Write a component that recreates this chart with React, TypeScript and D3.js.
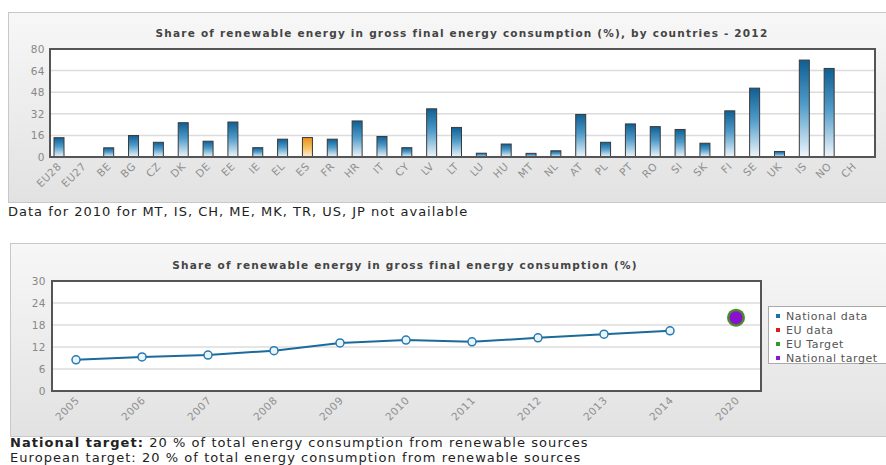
import React from "react";
import * as d3 from "d3";

const countries = ["EU28","EU27","BE","BG","CZ","DK","DE","EE","IE","EL","ES","FR","HR","IT","CY","LV","LT","LU","HU","MT","NL","AT","PL","PT","RO","SI","SK","FI","SE","UK","IS","NO","CH"];
const shares2012: (number | null)[] = [14.3,null,6.8,15.9,10.9,25.4,11.7,25.9,6.9,13.2,14.4,13.2,26.7,15.2,6.9,35.7,21.9,2.8,9.6,2.7,4.6,31.5,10.9,24.5,22.5,20.4,10.2,34.2,51.0,4.1,71.8,65.6,null];
const highlight = "ES";
const barTicks = [0,16,32,48,64,80];

const years = ["2005","2006","2007","2008","2009","2010","2011","2012","2013","2014","2020"];
const nationalData: (number | null)[] = [8.5,9.3,9.8,11.0,13.1,13.9,13.4,14.5,15.5,16.4,null];
const euTarget2020 = 20;
const nationalTarget2020 = 20;
const lineTicks = [0,6,12,18,24,30];
const legendItems = [
  { label: "National data", color: "#1b72a8" },
  { label: "EU data", color: "#e31a1c" },
  { label: "EU Target", color: "#2e9a2e" },
  { label: "National target", color: "#8a18c8" },
];

const FONT = "'DejaVu Sans', Verdana, sans-serif";

export default function App() {
  const yB = d3.scaleLinear().domain([0, 80]).range([157, 49]);
  const xB = d3.scalePoint<string>().domain(countries).range([59, 854]);
  const barW = 10;

  const yL = d3.scaleLinear().domain([0, 30]).range([391, 281]);
  const xL = d3.scalePoint<string>().domain(years).range([76, 736]);
  const pts = years.map((y, i) => ({ y, v: nationalData[i] })).filter(d => d.v != null) as { y: string; v: number }[];
  const line = d3.line<{ y: string; v: number }>().x(d => xL(d.y)!).y(d => yL(d.v));

  return (
    <svg width={886} height={465} style={{ position: "absolute", left: 0, top: 0, fontFamily: FONT }}>
      <defs>
        <linearGradient id="panelG" x1="0" y1="0" x2="0" y2="1">
          <stop offset="0" stopColor="#f7f7f7" />
          <stop offset="1" stopColor="#e2e2e2" />
        </linearGradient>
        <linearGradient id="blueG" x1="0" y1="0" x2="0" y2="1">
          <stop offset="0" stopColor="#0f5f94" />
          <stop offset="0.45" stopColor="#4e9ac8" />
          <stop offset="1" stopColor="#eef6fb" />
        </linearGradient>
        <linearGradient id="orangeG" x1="0" y1="0" x2="0" y2="1">
          <stop offset="0" stopColor="#e8901a" />
          <stop offset="0.5" stopColor="#f6bd5a" />
          <stop offset="1" stopColor="#fdf0d8" />
        </linearGradient>
      </defs>
      <rect x={0} y={0} width={886} height={465} fill="#fff" />

      {/* top panel */}
      <rect x={8.5} y={12.5} width={890} height={190} fill="url(#panelG)" stroke="#c8c8c8" />
      <text x={462} y={37} textAnchor="middle" fontSize={10.5} fontWeight="bold" fill="#444" letterSpacing={1.2}>
        Share of renewable energy in gross final energy consumption (%), by countries - 2012
      </text>
      <rect x={50} y={49} width={825} height={108} fill="#fff" />
      {barTicks.map(t => (
        <g key={t}>
          {t > 0 && t < 80 && <line x1={50} x2={875} y1={yB(t)} y2={yB(t)} stroke="#dcdcdc" strokeWidth={1.5} />}
          <text x={45} y={yB(t) + 4} textAnchor="end" fontSize={10.5} fill="#888" letterSpacing={0.5}>{t}</text>
        </g>
      ))}
      {countries.map((c, i) => {
        const v = shares2012[i];
        if (v == null) return null;
        const cx = xB(c)!;
        return (
          <rect key={c} x={cx - barW / 2} y={yB(v)} width={barW} height={yB(0) - yB(v)}
            fill={c === highlight ? "url(#orangeG)" : "url(#blueG)"} stroke="#3a3a3a" strokeWidth={1} />
        );
      })}
      <rect x={50} y={49} width={825} height={108} fill="none" stroke="#555" strokeWidth={2} />
      {countries.map(c => (
        <text key={c} transform={`translate(${xB(c)! + 3},${167}) rotate(-45)`} textAnchor="end" fontSize={10.5} fill="#8f8f8f" letterSpacing={0.5}>{c}</text>
      ))}
      <text x={8} y={216} fontSize={13} fill="#222" letterSpacing={1.0}>Data for 2010 for MT, IS, CH, ME, MK, TR, US, JP not available</text>

      {/* bottom panel */}
      <rect x={10.5} y={243.5} width={890} height={193} fill="url(#panelG)" stroke="#c8c8c8" />
      <text x={405} y={269} textAnchor="middle" fontSize={10.5} fontWeight="bold" fill="#444" letterSpacing={1.2}>
        Share of renewable energy in gross final energy consumption (%)
      </text>
      <rect x={52} y={281} width={709} height={110} fill="#fff" />
      {lineTicks.map(t => (
        <g key={t}>
          {t > 0 && t < 30 && <line x1={52} x2={761} y1={yL(t)} y2={yL(t)} stroke="#dcdcdc" strokeWidth={1.5} />}
          <text x={46} y={yL(t) + 4} textAnchor="end" fontSize={10.5} fill="#888" letterSpacing={0.5}>{t}</text>
        </g>
      ))}
      <path d={line(pts) || ""} fill="none" stroke="#1b6a9c" strokeWidth={2} />
      {pts.map(d => (
        <circle key={d.y} cx={xL(d.y)!} cy={yL(d.v)} r={4} fill="#e9f5fc" stroke="#2a7ab0" strokeWidth={1.5} />
      ))}
      <circle cx={xL("2020")!} cy={yL(euTarget2020)} r={9} fill="#4a8a2a" />
      <circle cx={xL("2020")!} cy={yL(nationalTarget2020)} r={6.5} fill="#8a10d0" />
      <rect x={52} y={281} width={709} height={110} fill="none" stroke="#555" strokeWidth={2} />
      {years.map(y => (
        <text key={y} transform={`translate(${xL(y)! + 4},${401}) rotate(-45)`} textAnchor="end" fontSize={10.5} fill="#8f8f8f" letterSpacing={0.5}>{y}</text>
      ))}
      {/* legend */}
      <rect x={768.5} y={306.5} width={130} height={57} fill="#fff" stroke="#aaa" />
      {legendItems.map((it, i) => (
        <g key={it.label}>
          <rect x={776} y={314 + i * 14} width={4} height={4} fill={it.color} />
          <text x={786} y={320 + i * 14} fontSize={11} fill="#555" letterSpacing={0.6}>{it.label}</text>
        </g>
      ))}

      <text x={10} y={447} fontSize={13} fill="#222" letterSpacing={1.05}>
        <tspan fontWeight="bold">National target:</tspan> 20 % of total energy consumption from renewable sources
      </text>
      <text x={10} y={462} fontSize={13} fill="#222" letterSpacing={1.05}>European target: 20 % of total energy consumption from renewable sources</text>
    </svg>
  );
}
